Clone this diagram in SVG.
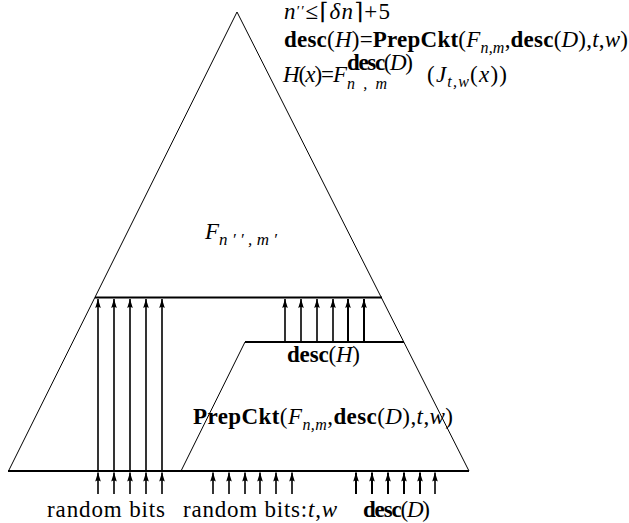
<svg xmlns="http://www.w3.org/2000/svg" width="629" height="523" viewBox="0 0 629 523">
<style>
text{font-family:"Liberation Serif","DejaVu Serif",serif;font-size:23px;fill:#000}
.it{font-style:italic}
.bf{font-weight:bold}
.sub{font-size:16px}
.thin{stroke:#000;stroke-width:1;fill:none}
.bus{stroke:#000;stroke-width:2.2;fill:none}
.arr{stroke:#000;stroke-width:1.6;fill:none;marker-end:url(#ah)}
</style>
<defs>
<marker id="ah" markerUnits="userSpaceOnUse" markerWidth="12" markerHeight="8" viewBox="-10 -4 12 8" refX="0" refY="0" orient="auto">
<path d="M0,0 L-9,-2.8 Q-7,0 -9,2.8 Z" fill="#000"/>
</marker>
</defs>
<rect width="629" height="523" fill="#fff"/>

<g id="outer-circuit">
<line class="thin" x1="237" y1="12" x2="8.5" y2="471"/>
<line class="thin" x1="237" y1="12" x2="469" y2="471"/>
<line class="bus" x1="95" y1="297.5" x2="382" y2="297.5"/>
<text x="205" y="239"><tspan class="it">F</tspan><tspan class="it" font-size="17" y="245" textLength="58" lengthAdjust="spacing">n′′,m′</tspan></text>
</g>

<g id="prep-circuit">
<line class="thin" x1="245" y1="342" x2="181" y2="471"/>
<line class="bus" x1="245" y1="342" x2="404" y2="342"/>
<text x="287" y="362" textLength="73" lengthAdjust="spacing"><tspan class="bf">desc</tspan>(<tspan class="it">H</tspan>)</text>
<text x="193" y="424" textLength="260" lengthAdjust="spacing"><tspan class="bf">PrepCkt</tspan>(<tspan class="it">F</tspan><tspan class="it sub" dy="6">n,m</tspan><tspan dy="-6">,</tspan><tspan class="bf">desc</tspan>(<tspan class="it">D</tspan>),<tspan class="it">t</tspan>,<tspan class="it">w</tspan>)</text>
</g>

<g id="base">
<line class="bus" x1="8" y1="471" x2="469" y2="471"/>
</g>

<g id="connectors">
<line class="arr" x1="98" y1="471" x2="98" y2="299"/>
<line class="arr" x1="114" y1="471" x2="114" y2="299"/>
<line class="arr" x1="130" y1="471" x2="130" y2="299"/>
<line class="arr" x1="146" y1="471" x2="146" y2="299"/>
<line class="arr" x1="162" y1="471" x2="162" y2="299"/>

<line class="arr" x1="285" y1="342" x2="285" y2="299"/>
<line class="arr" x1="301" y1="342" x2="301" y2="299"/>
<line class="arr" x1="317" y1="342" x2="317" y2="299"/>
<line class="arr" x1="333" y1="342" x2="333" y2="299"/>
<line class="arr" x1="348" y1="342" x2="348" y2="299" style="stroke-width:2"/>
<line class="arr" x1="364" y1="342" x2="364" y2="299" style="stroke-width:2"/>

<line class="arr" x1="98" y1="494" x2="98" y2="472.5"/>
<line class="arr" x1="114" y1="494" x2="114" y2="472.5"/>
<line class="arr" x1="130" y1="494" x2="130" y2="472.5"/>
<line class="arr" x1="146" y1="494" x2="146" y2="472.5"/>
<line class="arr" x1="162" y1="494" x2="162" y2="472.5"/>

<line class="arr" x1="213" y1="494" x2="213" y2="472.5"/>
<line class="arr" x1="229" y1="494" x2="229" y2="472.5"/>
<line class="arr" x1="245" y1="494" x2="245" y2="472.5"/>
<line class="arr" x1="260" y1="494" x2="260" y2="472.5"/>
<line class="arr" x1="276" y1="494" x2="276" y2="472.5"/>
<line class="arr" x1="292" y1="494" x2="292" y2="472.5"/>

<line class="arr" x1="356" y1="494" x2="356" y2="472.5" style="stroke-width:2"/>
<line class="arr" x1="372" y1="494" x2="372" y2="472.5" style="stroke-width:2"/>
<line class="arr" x1="388" y1="494" x2="388" y2="472.5" style="stroke-width:2"/>
<line class="arr" x1="404" y1="494" x2="404" y2="472.5" style="stroke-width:2"/>
<line class="arr" x1="420" y1="494" x2="420" y2="472.5" style="stroke-width:2"/>
<line class="arr" x1="435" y1="494" x2="435" y2="472.5"/>
</g>

<g id="inputs">
<text x="47" y="517" textLength="118" lengthAdjust="spacing">random bits</text>
<text x="183" y="517" textLength="154" lengthAdjust="spacing">random bits:<tspan class="it">t</tspan>,<tspan class="it">w</tspan></text>
<text x="363" y="517" textLength="67" lengthAdjust="spacing"><tspan class="bf">desc</tspan>(<tspan class="it">D</tspan>)</text>
</g>

<g id="annotations">
<text x="284" y="19" font-size="21" textLength="106" lengthAdjust="spacing"><tspan class="it">n</tspan><tspan dy="-3" font-size="15">′′</tspan><tspan dy="3">≤⌈</tspan><tspan class="it">δn</tspan>⌉+5</text>
<text x="284" y="47" textLength="344" lengthAdjust="spacing"><tspan class="bf">desc</tspan>(<tspan class="it">H</tspan>)=<tspan class="bf">PrepCkt</tspan>(<tspan class="it">F</tspan><tspan class="it sub" dy="6">n,m</tspan><tspan dy="-6">,</tspan><tspan class="bf">desc</tspan>(<tspan class="it">D</tspan>),<tspan class="it">t</tspan>,<tspan class="it">w</tspan>)</text>
<text x="283" y="82" textLength="64" lengthAdjust="spacing"><tspan class="it">H</tspan>(<tspan class="it">x</tspan>)=<tspan class="it">F</tspan></text>
<text x="347" y="70" font-size="15" textLength="66" lengthAdjust="spacing"><tspan class="bf">desc</tspan>(<tspan class="it">D</tspan>)</text>
<text x="347" y="89" class="it sub" textLength="40" lengthAdjust="spacing">n,m</text>
<text x="427" y="82" textLength="80" lengthAdjust="spacing">(<tspan class="it">J</tspan><tspan class="it sub" dy="5">t,w</tspan><tspan dy="-5">(</tspan><tspan class="it">x</tspan>))</text>
</g>
</svg>
